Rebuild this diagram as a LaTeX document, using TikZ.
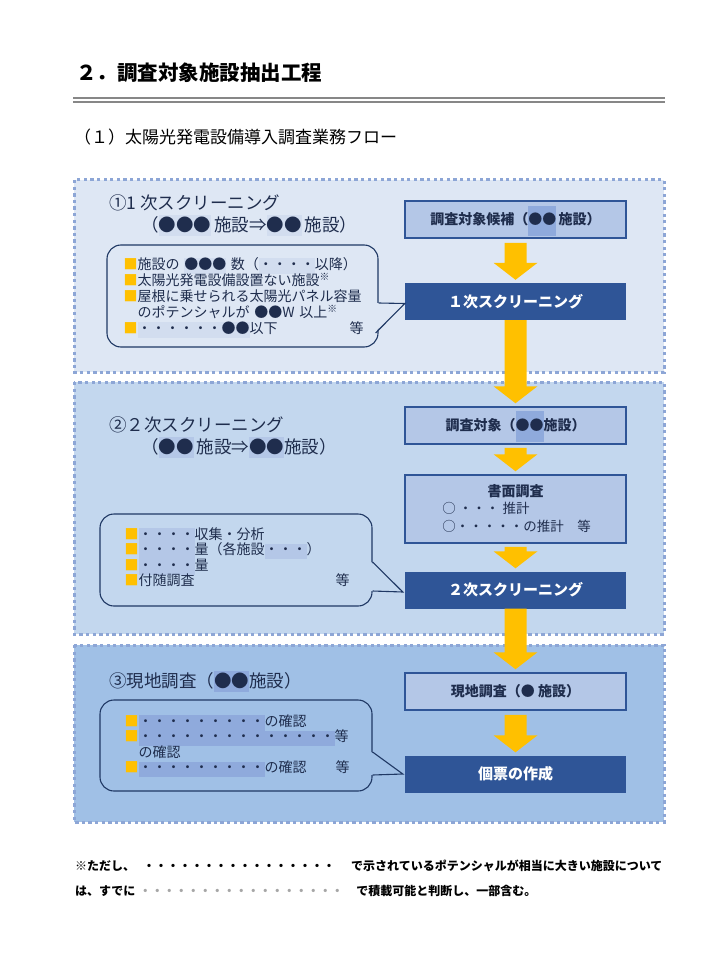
\documentclass[tikz,border=0pt]{standalone}
\usepackage{fontspec}
\setmainfont{Noto Sans CJK JP}
\usepackage{xcolor}
\usepackage{tikz}
\usetikzlibrary{calc,positioning}
\definecolor{panelA}{HTML}{DEE7F4}
\definecolor{panelB}{HTML}{C3D7EE}
\definecolor{panelC}{HTML}{A0C0E6}
\definecolor{dotline}{HTML}{8DA6D6}
\definecolor{boxlight}{HTML}{B4C7E7}
\definecolor{boxdark}{HTML}{2F5597}
\definecolor{arrowgold}{HTML}{FFC000}
\definecolor{hlmid}{HTML}{8FAADC}
\definecolor{hlfaint}{HTML}{D2DDEF}
\definecolor{navytext}{HTML}{1F2D4D}
\definecolor{calloutline}{HTML}{1F3864}
\definecolor{rulegray}{HTML}{878787}
\newcommand{\fsz}[2]{\fontsize{#1pt}{#2pt}\selectfont}
\newcommand{\osq}{\textcolor{arrowgold}{■}}
\newcommand{\hlt}[4]{\smash{\setlength{\fboxsep}{0pt}\colorbox{#1}{\rule[#2]{0pt}{#3}#4}}}
\newcommand{\flowarrow}[3][3pt]{%
  \fill[arrowgold] let \p1=(#2.south), \p2=(#3.north) in
    (\x1-11pt,\y1-#1) -- (\x1+11pt,\y1-#1) -- (\x1+11pt,\y2+20pt)
    -- (\x1+22pt,\y2+20pt) -- (\x1,\y2+3pt) -- (\x1-22pt,\y2+20pt)
    -- (\x1-11pt,\y2+20pt) -- cycle;}
\newcommand{\calltip}[4]{%
  \fill[#1] ([xshift=-1.5pt]#2) -- (#3) -- ([xshift=-1.5pt]#4) -- cycle;
  \draw[calloutline, line width=1.1pt] (#2) -- (#3) -- (#4);}
\tikzstyle{panel} = [draw=dotline, line width=3pt, dash pattern=on 3.3pt off 3.3pt]
\tikzstyle{lbox} = [rectangle, draw=boxdark, line width=1.5pt, fill=boxlight, text=navytext, minimum width=221pt, minimum height=37pt, font=\fsz{14}{16}\bfseries]
\tikzstyle{dbox} = [rectangle, fill=boxdark, text=white, minimum width=221pt, minimum height=37pt, font=\fsz{15}{17}\bfseries]
\tikzstyle{callout} = [rectangle, draw=calloutline, line width=1.1pt, rounded corners=14pt]
\tikzstyle{ctext} = [anchor=north west, align=left, inner sep=0pt, text=navytext]
\tikzstyle{head} = [anchor=west, inner sep=0pt, text=navytext, font=\fsz{17.5}{20}]

\begin{document}
\begin{tikzpicture}[x=1pt, y=-1pt]
\useasboundingbox (0,0) rectangle (720,960);
\fill[white] (0,0) rectangle (720,960);
% title
\node[anchor=west, inner sep=0pt, font=\fsz{20.5}{24}\bfseries] (T) at (76,73) {２．調査対象施設抽出工程};
\draw[rulegray, line width=2.4pt] (73,97.8) -- (665,97.8);
\draw[rulegray, line width=2.4pt] (73,101.9) -- (665,101.9);
\node[anchor=west, inner sep=0pt, font=\fsz{17}{20}] (ST) at (74,137) {（１）太陽光発電設備導入調査業務フロー};
% panels
\draw[panel, fill=panelA] (74,180) rectangle (664,372);
\draw[panel, fill=panelB] (74,382) rectangle (664,634);
\draw[panel, fill=panelC] (74,645) rectangle (664,822);
% right column
\node[lbox] (A) at (515.5,219.5) {調査対象候補（\hlt{hlmid}{-11pt}{30pt}{●●}\,施設）};
\node[dbox] (B) at (515.5,301.5) {１次スクリーニング};
\node[lbox] (C) at (515.5,425.5) {調査対象（\hlt{hlmid}{-11pt}{31pt}{●●}施設）};
\node[lbox, minimum height=68pt] (D) at (515.5,509) {};
\node[dbox] (E) at (515.5,590) {２次スクリーニング};
\node[lbox] (F) at (515.5,691.5) {現地調査（● 施設）};
\node[dbox] (G) at (515.5,774) {個票の作成};
\node[inner sep=0pt, text=navytext, font=\fsz{14}{16}\bfseries] (Dh) [below=10pt of D.north] {書面調査};
\node[ctext, font=\fsz{13.5}{18}] (Dl) [below right=28pt and 38pt of D.north west] {○ ・・・ 推計\\○・・・・・の推計　等};
% arrows
\flowarrow[4pt]{A}{B}
\flowarrow[0pt]{B}{C}
\flowarrow{C}{D}
\flowarrow{D}{E}
\flowarrow[0pt]{E}{F}
\flowarrow[4pt]{F}{G}
% headings
\node[head] (H1) at (109,203) {①1 次スクリーニング};
\node[head] (H1b) at (141,225) {（\hlt{hlfaint}{-4pt}{21pt}{●●●}\,施設⇒\hlt{hlfaint}{-4pt}{21pt}{●●}\,施設）};
\node[head] (H2) at (109,425) {②２次スクリーニング};
\node[head] (H2b) at (141,447) {（\hlt{boxlight}{-4pt}{21pt}{●●}\,施設⇒\hlt{boxlight}{-4pt}{21pt}{●●}施設）};
\node[head] (H3) at (109,681) {③現地調査（\hlt{hlmid}{-4pt}{21pt}{●●}施設）};
% callouts
\node[callout, minimum width=271pt, minimum height=102pt] (N1) at (242.5,296) {};
\coordinate (N1t) at ([yshift=-7pt]N1.east);
\coordinate (N1b) at ([xshift=-3pt,yshift=-37pt]N1.east);
\coordinate (P1) at ([yshift=-2pt]B.west);
\calltip{panelA}{N1t}{P1}{N1b}
\node[ctext, text width=240pt, font=\fsz{14}{16}] (L1) [below right=13pt and 17pt of N1.north west]
  {\osq 施設の \hlt{hlfaint}{-4pt}{16pt}{●●●} 数（\hlt{hlfaint}{-4pt}{16pt}{・・・・}以降）\\
   \osq 太陽光発電設備設置ない施設\textsuperscript{※}\\
   \osq 屋根に乗せられる太陽光パネル容量\\
   \hphantom{\osq}のポテンシャルが ●●W 以上\textsuperscript{※}\\
   \osq\hlt{hlfaint}{-4pt}{16pt}{・・・・・・●●}以下\hspace*{\fill}等};
\node[callout, minimum width=272pt, minimum height=92pt] (N2) at (236,560) {};
\coordinate (N2t) at ([yshift=-2pt]N2.east);
\coordinate (N2b) at ([yshift=-31pt]N2.east);
\coordinate (P2) at ([xshift=-2pt,yshift=-2pt]E.west);
\calltip{panelB}{N2t}{P2}{N2b}
\node[ctext, text width=225pt, font=\fsz{14}{15.5}] (L2) [below right=14pt and 25pt of N2.north west]
  {\osq\hlt{boxlight}{-4.5pt}{15.5pt}{・・・・}収集・分析\\
   \osq\hlt{boxlight}{-4.5pt}{15.5pt}{・・・・}量（各施設\hlt{boxlight}{-4pt}{15pt}{・・・}）\\
   \osq\hlt{boxlight}{-4.5pt}{15.5pt}{・・・・}量\\
   \osq 付随調査\hspace*{\fill}等};
\node[callout, minimum width=272pt, minimum height=91pt] (N3) at (236,745.5) {};
\coordinate (N3t) at ([yshift=-6.5pt]N3.east);
\coordinate (N3b) at ([yshift=-29.5pt]N3.east);
\coordinate (P3) at ([xshift=-2pt]G.west);
\calltip{panelC}{N3t}{P3}{N3b}
\node[ctext, text width=225pt, font=\fsz{14}{15.5}] (L3) [below right=15pt and 25pt of N3.north west]
  {\osq\hlt{hlmid}{-4.5pt}{15.5pt}{・・・・・・・・・}の確認\\
   \osq\hlt{hlmid}{-4.5pt}{15.5pt}{・・・・・・・・・・・・・・}等\\
   \hphantom{\osq}の確認\\
   \osq\hlt{hlmid}{-4.5pt}{15.5pt}{・・・・・・・・・}の確認\hspace*{\fill}等};
% footnote
\node[anchor=west, inner sep=0pt, font=\fsz{12}{14}\bfseries] (F1) at (75,866) {※ただし、\hspace{8pt}・・・・・・・・・・・・・・・・\hspace{16pt}で示されているポテンシャルが相当に大きい施設について};
\node[anchor=west, inner sep=0pt, font=\fsz{12}{14}\bfseries] (F2) at (75,891) {は、すでに\hspace{4pt}\textcolor{gray!70}{・・・・・・・・・・・・・・・・・}\hspace{13pt}で積載可能と判断し、一部含む。};
\end{tikzpicture}
\end{document}
